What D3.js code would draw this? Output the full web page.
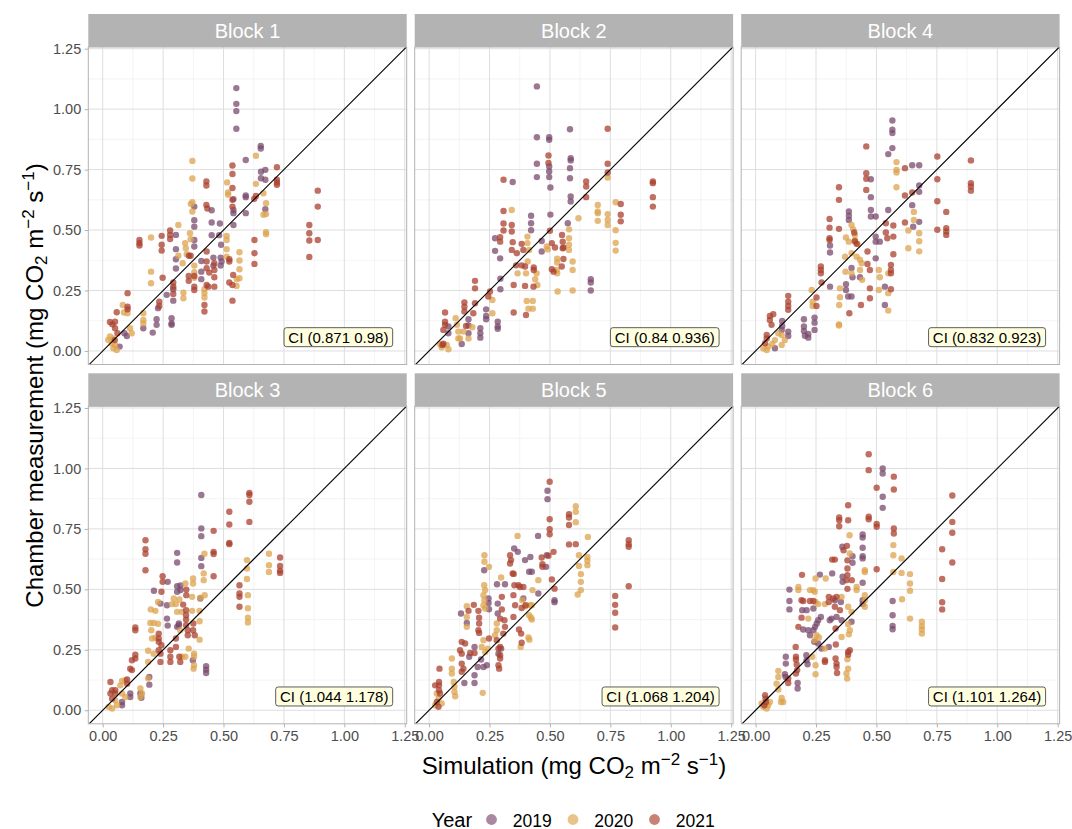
<!DOCTYPE html>
<html>
<head>
<meta charset="utf-8">
<script src="https://cdn.jsdelivr.net/npm/d3@7"></script>
<style>
  body { margin: 0; background: #fff; }
  svg text { font-family: "Liberation Sans", Arial, sans-serif; }
</style>
</head>
<body>
<div id="chart"></div>
<script>
// facet labels in display order, and the CI text of each facet
const blocks = ["Block 1", "Block 2", "Block 4", "Block 3", "Block 5", "Block 6"];
const ciLabels = ["CI (0.871 0.98)", "CI (0.84 0.936)", "CI (0.832 0.923)",
                  "CI (1.044 1.178)", "CI (1.068 1.204)", "CI (1.101 1.264)"];
const years = ["2019", "2020", "2021"];
const yearColors = ["#7a4a6e", "#dca34e", "#aa402d"];
const ticks = [0, 0.25, 0.5, 0.75, 1.0, 1.25];
const minorTicks = [0.125, 0.375, 0.625, 0.875, 1.125];

// [simulation, chamber measurement]
const b1_2019 = [[.553,1.087],[.553,1.022],[.553,.992],[.553,.919],[.654,.848],[.654,.837],[.592,.79],[.592,.643],[.592,.636],[.592,.57],
  [.655,.741],[.673,.749],[.655,.714],[.673,.708],[.673,.586],[.541,.628],[.541,.583],[.541,.57],[.541,.521],[.451,.582],[.451,.531],
  [.485,.527],[.451,.479],[.482,.479],[.49,.439],[.379,.597],[.379,.541],[.379,.514],[.379,.459],[.379,.432],[.303,.48],[.303,.421],
  [.303,.379],[.303,.341],[.408,.372],[.408,.328],[.408,.297],[.458,.386],[.458,.353],[.488,.386],[.492,.37],[.488,.353],[.265,.232],
  [.292,.255],[.292,.208],[.09,.073],[.1,.062],[.07,.018],[.168,.094],[.207,.076],[.223,.131],[.223,.108],[.285,.135],[.285,.114],
  [.285,.108],[.229,.177]];
const b1_2020 = [[.634,.807],[.634,.691],[.371,.786],[.371,.713],[.371,.615],[.365,.608],[.371,.577],[.515,.697],[.519,.655],[.519,.646],
  [.665,.652],[.676,.611],[.665,.563],[.676,.566],[.676,.491],[.676,.483],[.313,.521],[.2,.469],[.341,.446],[.344,.425],[.348,.4],
  [.361,.487],[.364,.462],[.313,.394],[.331,.363],[.2,.328],[.2,.28],[.334,.241],[.334,.218],[.379,.353],[.379,.326],[.379,.303],
  [.421,.255],[.421,.239],[.421,.221],[.513,.476],[.513,.459],[.513,.421],[.513,.39],[.566,.408],[.566,.374],[.566,.338],[.555,.297],
  [.566,.301],[.554,.269],[.083,.19],[.088,.159],[.103,.156],[.03,.06],[.044,.052],[.051,.025],[.058,.004],[.044,.011],[.037,.032],
  [.023,.046],[.113,.094],[.12,.073],[.168,.156],[.168,.128],[.168,.114]];
const b1_2021 = [[.721,.76],[.721,.708],[.721,.697],[.721,.687],[.537,.767],[.537,.732],[.537,.674],[.537,.625],[.537,.597],[.627,.629],
  [.634,.641],[.429,.701],[.429,.684],[.429,.604],[.433,.589],[.279,.498],[.279,.48],[.279,.463],[.244,.476],[.244,.439],[.244,.415],
  [.152,.459],[.152,.446],[.152,.436],[.357,.394],[.364,.394],[.248,.303],[.292,.283],[.292,.266],[.292,.236],[.356,.31],[.356,.29],
  [.379,.31],[.379,.266],[.379,.252],[.421,.19],[.421,.163],[.43,.411],[.43,.37],[.43,.342],[.441,.324],[.43,.273],[.437,.266],
  [.462,.363],[.462,.335],[.462,.305],[.462,.266],[.524,.379],[.524,.37],[.54,.314],[.537,.273],[.537,.208],[.524,.283],[.628,.459],
  [.628,.404],[.628,.36],[.855,.521],[.855,.487],[.855,.457],[.855,.389],[.89,.663],[.89,.597],[.89,.459],[.103,.239],[.103,.183],
  [.103,.172],[.058,.16],[.051,.121],[.051,.094],[.061,.073],[.234,.204],[.234,.186],[.04,.11],[.03,.12],[.05,.045]];

const b2_2019 = [[.446,1.094],[.583,.917],[.446,.884],[.497,.884],[.497,.873],[.497,.763],[.497,.742],[.497,.719],[.502,.676],[.446,.774],
  [.446,.719],[.586,.797],[.586,.788],[.583,.756],[.583,.714],[.586,.639],[.586,.618],[.346,.699],[.422,.559],[.422,.528],[.422,.499],
  [.502,.564],[.574,.528],[.273,.466],[.273,.414],[.294,.383],[.466,.455],[.466,.411],[.669,.297],[.669,.283],[.669,.25],[.295,.299],
  [.295,.255],[.236,.172],[.236,.145],[.236,.131],[.284,.121],[.284,.101],[.284,.092],[.163,.131],[.163,.105],[.163,.073],[.212,.094],
  [.212,.073],[.212,.055],[.08,.101],[.08,.073],[.135,.029]];
const b2_2020 = [[.739,.717],[.342,.583],[.618,.549],[.579,.503],[.698,.604],[.698,.577],[.698,.57],[.698,.538],[.739,.566],[.739,.542],
  [.739,.521],[.772,.615],[.772,.499],[.772,.447],[.772,.415],[.407,.473],[.407,.446],[.579,.466],[.579,.439],[.579,.418],[.414,.418],
  [.408,.37],[.487,.432],[.491,.42],[.53,.382],[.53,.366],[.528,.335],[.53,.321],[.594,.37],[.594,.335],[.594,.25],[.532,.246],
  [.366,.321],[.401,.321],[.445,.321],[.439,.297],[.448,.273],[.404,.207],[.429,.207],[.411,.175],[.429,.175],[.262,.211],[.262,.156],
  [.179,.098],[.11,.135],[.115,.108],[.121,.08],[.121,.052],[.128,.052],[.045,.029],[.052,.015],[.073,.025],[.08,.007],[.142,.08],
  [.163,.052]];
const b2_2021 = [[.739,.919],[.494,.808],[.494,.777],[.739,.774],[.739,.738],[.65,.701],[.65,.68],[.65,.636],[.926,.701],[.926,.694],
  [.926,.636],[.926,.597],[.793,.608],[.793,.563],[.793,.536],[.308,.708],[.308,.579],[.308,.527],[.308,.498],[.342,.521],[.342,.494],
  [.346,.45],[.342,.418],[.294,.47],[.294,.452],[.5,.497],[.508,.446],[.55,.48],[.553,.452],[.553,.425],[.383,.443],[.39,.418],
  [.363,.404],[.521,.428],[.556,.428],[.556,.38],[.36,.354],[.383,.354],[.397,.349],[.433,.345],[.433,.335],[.508,.338],[.515,.328],
  [.549,.349],[.397,.269],[.432,.266],[.401,.149],[.35,.159],[.35,.273],[.252,.246],[.245,.225],[.19,.29],[.19,.259],[.146,.201],
  [.146,.183],[.146,.163],[.19,.197],[.183,.156],[.153,.103],[.066,.159],[.066,.121],[.066,.108],[.059,.087],[.059,.03],[.055,.025]];

const b4_2019 = [[.566,.953],[.566,.915],[.566,.901],[.566,.839],[.549,.814],[.648,.768],[.677,.768],[.477,.71],[.477,.636],[.677,.684],
  [.677,.658],[.648,.603],[.677,.534],[.652,.514],[.386,.577],[.386,.559],[.386,.542],[.477,.583],[.477,.556],[.497,.556],[.549,.583],
  [.308,.436],[.308,.407],[.497,.473],[.497,.452],[.514,.452],[.497,.383],[.397,.343],[.401,.305],[.432,.305],[.308,.266],[.374,.276],
  [.374,.252],[.383,.225],[.397,.225],[.535,.266],[.535,.19],[.11,.124],[.11,.103],[.135,.08],[.135,.062],[.108,.087],[.2,.131],
  [.2,.101],[.2,.083],[.204,.063],[.218,.07],[.218,.055],[.244,.138],[.244,.117],[.244,.087],[.08,.011]];
const b4_2020 = [[.583,.781],[.583,.749],[.583,.738],[.583,.677],[.655,.575],[.655,.542],[.677,.487],[.677,.454],[.677,.412],[.632,.498],
  [.632,.425],[.397,.521],[.404,.503],[.411,.48],[.374,.469],[.386,.452],[.411,.457],[.422,.443],[.37,.39],[.397,.404],[.418,.39],
  [.432,.377],[.439,.363],[.372,.328],[.397,.321],[.432,.335],[.441,.294],[.51,.335],[.514,.305],[.549,.321],[.232,.252],[.236,.204],
  [.236,.186],[.349,.259],[.349,.222],[.346,.19],[.345,.11],[.345,.105],[.51,.252],[.549,.239],[.549,.167],[.094,.073],[.108,.066],
  [.121,.045],[.108,.025],[.08,.045],[.069,.029],[.032,.011],[.046,.004],[.052,.018]];
const b4_2021 = [[.458,.846],[.752,.804],[.891,.788],[.891,.694],[.891,.68],[.891,.663],[.618,.756],[.458,.735],[.458,.712],[.458,.666],
  [.648,.655],[.618,.643],[.752,.71],[.752,.619],[.789,.575],[.752,.501],[.789,.508],[.789,.494],[.789,.48],[.618,.531],[.345,.677],
  [.345,.625],[.306,.546],[.306,.51],[.345,.505],[.306,.466],[.306,.459],[.408,.49],[.411,.454],[.418,.443],[.463,.411],[.539,.528],
  [.539,.49],[.545,.466],[.57,.519],[.57,.473],[.57,.4],[.56,.356],[.56,.335],[.56,.321],[.463,.36],[.473,.335],[.27,.349],[.27,.335],
  [.27,.321],[.273,.283],[.252,.221],[.252,.186],[.388,.156],[.436,.19],[.473,.259],[.473,.218],[.56,.255],[.135,.228],[.135,.204],
  [.135,.186],[.135,.17],[.059,.145],[.073,.152],[.059,.128],[.066,.108],[.046,.066],[.046,.052],[.039,.032]];

const b3_2019 = [[.408,.89],[.408,.752],[.408,.72],[.308,.651],[.308,.611],[.408,.63],[.408,.596],[.269,.531],[.212,.494],[.308,.513],
  [.322,.516],[.308,.49],[.322,.497],[.404,.462],[.266,.434],[.266,.379],[.239,.441],[.315,.359],[.315,.352],[.269,.35],[.308,.345],
  [.373,.207],[.428,.182],[.428,.168],[.428,.154],[.193,.138],[.193,.106],[.156,.069],[.16,.052],[.114,.069],[.114,.055],[.08,.034],
  [.08,.021]];
const b3_2020 = [[.421,.647],[.418,.566],[.418,.538],[.597,.621],[.597,.586],[.597,.543],[.688,.647],[.688,.6],[.688,.572],[.601,.476],
  [.601,.422],[.601,.383],[.601,.363],[.342,.524],[.374,.545],[.374,.524],[.37,.469],[.404,.465],[.422,.476],[.229,.448],[.218,.411],
  [.199,.417],[.287,.439],[.303,.439],[.308,.407],[.328,.407],[.294,.462],[.317,.458],[.37,.411],[.401,.411],[.321,.331],[.401,.368],
  [.401,.292],[.197,.361],[.211,.361],[.229,.358],[.204,.297],[.218,.3],[.201,.331],[.188,.246],[.211,.234],[.328,.221],[.342,.221],
  [.356,.255],[.378,.234],[.378,.221],[.378,.186],[.376,.172],[.188,.2],[.188,.132],[.094,.124],[.08,.121],[.156,.09],[.163,.069],
  [.156,.055],[.073,.103],[.08,.069],[.094,.055],[.052,.041],[.025,.014],[.039,.007],[.059,.021]];
const b3_2021 = [[.607,.899],[.607,.89],[.607,.862],[.607,.779],[.524,.821],[.524,.768],[.524,.692],[.524,.687],[.459,.742],[.177,.703],
  [.177,.666],[.177,.647],[.177,.579],[.459,.655],[.459,.646],[.459,.554],[.734,.632],[.734,.597],[.734,.577],[.734,.568],[.566,.517],
  [.566,.483],[.566,.469],[.566,.428],[.248,.554],[.248,.531],[.243,.49],[.346,.499],[.346,.476],[.345,.414],[.345,.393],[.345,.375],
  [.345,.352],[.352,.331],[.352,.31],[.333,.437],[.375,.359],[.374,.331],[.381,.31],[.135,.342],[.135,.331],[.232,.317],[.232,.297],
  [.232,.283],[.243,.269],[.232,.248],[.239,.234],[.239,.2],[.303,.297],[.303,.262],[.28,.248],[.28,.221],[.28,.2],[.317,.221],
  [.321,.2],[.135,.23],[.135,.214],[.121,.207],[.114,.172],[.121,.166],[.101,.127],[.101,.11],[.032,.117],[.039,.083],[.032,.069],
  [.039,.048],[.052,.083],[.052,.069]];

const b5_2019 = [[.49,.908],[.49,.873],[.451,.721],[.352,.669],[.367,.655],[.419,.634],[.397,.621],[.414,.573],[.425,.573],[.487,.641],
  [.484,.593],[.519,.455],[.519,.447],[.228,.579],[.281,.521],[.314,.521],[.246,.462],[.246,.444],[.248,.418],[.132,.4],[.156,.361],
  [.284,.441],[.284,.4],[.39,.462],[.452,.483],[.298,.255],[.287,.234],[.188,.262],[.166,.221],[.215,.21],[.201,.179],[.225,.179],
  [.239,.186],[.188,.145],[.188,.113],[.146,.113]];
const b5_2020 = [[.607,.844],[.607,.821],[.607,.778],[.366,.721],[.657,.717],[.62,.641],[.655,.634],[.655,.618],[.655,.6],[.62,.597],
  [.628,.563],[.628,.531],[.628,.497],[.615,.479],[.229,.641],[.229,.614],[.248,.593],[.298,.549],[.452,.538],[.428,.497],[.228,.517],
  [.232,.497],[.225,.476],[.229,.455],[.225,.433],[.232,.421],[.156,.43],[.156,.386],[.156,.345],[.386,.455],[.397,.43],[.418,.434],
  [.425,.434],[.414,.393],[.422,.383],[.425,.375],[.28,.359],[.28,.331],[.273,.31],[.411,.301],[.415,.292],[.379,.262],[.225,.29],
  [.218,.262],[.232,.241],[.243,.255],[.094,.214],[.094,.172],[.094,.152],[.102,.117],[.105,.097],[.105,.076],[.108,.058],[.222,.072],
  [.032,.069],[.025,.021],[.052,.028],[.039,.048]];
const b5_2021 = [[.499,.945],[.579,.811],[.579,.797],[.579,.766],[.499,.79],[.499,.749],[.499,.728],[.579,.686],[.607,.687],[.826,.703],
  [.826,.687],[.826,.676],[.826,.513],[.77,.473],[.77,.436],[.77,.403],[.77,.342],[.335,.641],[.339,.621],[.335,.607],[.346,.566],
  [.466,.632],[.469,.604],[.469,.593],[.515,.655],[.494,.639],[.508,.541],[.519,.503],[.35,.564],[.353,.517],[.37,.517],[.376,.51],
  [.39,.51],[.185,.436],[.163,.411],[.204,.411],[.207,.383],[.207,.359],[.204,.331],[.207,.32],[.301,.469],[.301,.417],[.294,.379],
  [.349,.476],[.356,.434],[.349,.386],[.383,.423],[.4,.434],[.312,.372],[.314,.345],[.307,.317],[.372,.334],[.381,.317],[.383,.279],
  [.248,.297],[.28,.29],[.294,.262],[.287,.255],[.294,.228],[.294,.214],[.287,.186],[.29,.172],[.135,.283],[.149,.276],[.128,.248],
  [.135,.234],[.17,.237],[.188,.237],[.135,.193],[.142,.172],[.135,.159],[.043,.172],[.041,.117],[.041,.103],[.041,.083],[.045,.069],
  [.032,.034],[.039,.014],[.025,.103]];

const b6_2019 = [[.526,1.0],[.526,.979],[.526,.883],[.526,.837],[.443,.727],[.443,.714],[.443,.672],[.359,.676],[.401,.637],[.401,.61],
  [.443,.637],[.443,.628],[.567,.452],[.567,.393],[.567,.349],[.567,.335],[.317,.566],[.36,.552],[.36,.531],[.443,.527],[.443,.455],
  [.443,.439],[.266,.561],[.14,.499],[.14,.452],[.14,.417],[.193,.414],[.211,.414],[.239,.421],[.197,.334],[.218,.331],[.239,.331],
  [.246,.345],[.253,.359],[.259,.372],[.27,.386],[.225,.31],[.243,.283],[.259,.276],[.273,.255],[.328,.455],[.353,.448],[.314,.379],
  [.307,.372],[.335,.386],[.356,.372],[.397,.366],[.303,.262],[.21,.228],[.211,.207],[.215,.19],[.125,.221],[.125,.193],[.121,.149],
  [.124,.138],[.174,.113],[.174,.09]];
const b6_2020 = [[.389,.724],[.57,.683],[.57,.641],[.39,.648],[.452,.579],[.452,.572],[.604,.628],[.604,.568],[.57,.572],[.639,.563],
  [.639,.524],[.639,.494],[.606,.459],[.639,.379],[.688,.366],[.688,.348],[.688,.334],[.688,.317],[.452,.476],[.452,.455],[.452,.428],
  [.418,.51],[.418,.497],[.248,.545],[.29,.545],[.238,.497],[.245,.49],[.177,.51],[.177,.497],[.225,.497],[.218,.379],[.245,.29],
  [.287,.439],[.259,.439],[.248,.448],[.356,.469],[.383,.428],[.397,.407],[.383,.356],[.39,.331],[.386,.314],[.356,.303],[.287,.255],
  [.248,.186],[.248,.149],[.38,.211],[.383,.172],[.376,.152],[.379,.131],[.252,.31],[.262,.301],[.234,.221],[.094,.163],[.094,.138],
  [.087,.11],[.094,.086],[.108,.051],[.114,.034],[.105,.034],[.025,.028],[.032,.014],[.052,.021],[.046,.007],[.059,.034]];
const b6_2021 = [[.468,1.059],[.468,.993],[.572,.966],[.572,.913],[.501,.92],[.814,.888],[.814,.779],[.814,.734],[.814,.611],[.772,.666],
  [.772,.543],[.772,.447],[.772,.417],[.383,.848],[.346,.797],[.346,.786],[.346,.761],[.383,.786],[.468,.8],[.468,.79],[.501,.77],
  [.501,.759],[.572,.752],[.572,.731],[.378,.68],[.364,.662],[.317,.623],[.328,.623],[.38,.62],[.38,.586],[.38,.559],[.376,.538],
  [.38,.502],[.398,.538],[.501,.583],[.192,.56],[.19,.455],[.197,.452],[.225,.452],[.239,.452],[.19,.383],[.177,.345],[.303,.469],
  [.303,.448],[.321,.462],[.335,.469],[.328,.428],[.349,.414],[.331,.338],[.332,.272],[.39,.248],[.383,.241],[.383,.23],[.331,.214],
  [.335,.193],[.335,.179],[.337,.154],[.287,.2],[.287,.207],[.166,.262],[.167,.221],[.167,.21],[.17,.189],[.172,.166],[.135,.131],
  [.135,.113],[.167,.152],[.039,.062],[.041,.048],[.043,.034],[.036,.021]];

const panels = [
  [b1_2019, b1_2020, b1_2021],
  [b2_2019, b2_2020, b2_2021],
  [b4_2019, b4_2020, b4_2021],
  [b3_2019, b3_2020, b3_2021],
  [b5_2019, b5_2020, b5_2021],
  [b6_2019, b6_2020, b6_2021]
];

const width = 1072, height = 829;
const colLeft = [88.3, 414.7, 741.2];
const stripTop = [14, 373.3];
const panelW = 318.4, stripH = 33, plotH = 317.5;

const svg = d3.select("#chart").append("svg")
    .attr("width", width)
    .attr("height", height);

const xScale = d3.scaleLinear().domain([-0.0596, 1.258]).range([0, panelW]);
const yScale = d3.scaleLinear().domain([-0.056, 1.257]).range([plotH, 0]);

panels.forEach((series, i) => {
    const col = i % 3, row = Math.floor(i / 3);
    const g = svg.append("g")
        .attr("transform", "translate(" + colLeft[col] + "," + stripTop[row] + ")");

    // strip
    g.append("rect")
        .attr("width", panelW).attr("height", stripH)
        .attr("fill", "#b3b3b3");
    g.append("text")
        .attr("x", panelW / 2).attr("y", 24)
        .attr("text-anchor", "middle")
        .attr("fill", "#ffffff")
        .style("font-size", "20px")
        .text(blocks[i]);

    const pg = g.append("g").attr("transform", "translate(0," + stripH + ")");

    pg.append("clipPath").attr("id", "clip" + i)
        .append("rect").attr("width", panelW).attr("height", plotH);

    // grid
    pg.selectAll(".minorV").data(minorTicks).join("line")
        .attr("x1", d => xScale(d)).attr("x2", d => xScale(d))
        .attr("y1", 0).attr("y2", plotH)
        .attr("stroke", "#ededed").attr("stroke-width", 0.6);
    pg.selectAll(".minorH").data(minorTicks).join("line")
        .attr("y1", d => yScale(d)).attr("y2", d => yScale(d))
        .attr("x1", 0).attr("x2", panelW)
        .attr("stroke", "#ededed").attr("stroke-width", 0.6);
    pg.selectAll(".majorV").data(ticks).join("line")
        .attr("x1", d => xScale(d)).attr("x2", d => xScale(d))
        .attr("y1", 0).attr("y2", plotH)
        .attr("stroke", "#dedede").attr("stroke-width", 1);
    pg.selectAll(".majorH").data(ticks).join("line")
        .attr("y1", d => yScale(d)).attr("y2", d => yScale(d))
        .attr("x1", 0).attr("x2", panelW)
        .attr("stroke", "#dedede").attr("stroke-width", 1);

    // points
    const dots = pg.append("g").attr("clip-path", "url(#clip" + i + ")");
    series.forEach((pts, k) => {
        dots.selectAll(".y" + years[k]).data(pts).join("circle")
            .attr("cx", d => xScale(d[0]))
            .attr("cy", d => yScale(d[1]))
            .attr("r", 3.2)
            .attr("fill", yearColors[k])
            .attr("fill-opacity", 0.75);
    });

    // 1:1 line
    pg.append("line")
        .attr("clip-path", "url(#clip" + i + ")")
        .attr("x1", xScale(-0.07)).attr("y1", yScale(-0.07))
        .attr("x2", xScale(1.27)).attr("y2", yScale(1.27))
        .attr("stroke", "#000").attr("stroke-width", 1.1);

    // CI label
    const lab = pg.append("g");
    const pad = 4.3;
    const right = xScale(1.2), cy = yScale(0.057);
    const t = lab.append("text")
        .attr("x", right - pad).attr("y", cy + 5.4)
        .attr("text-anchor", "end")
        .attr("fill", "#000")
        .style("font-size", "15px")
        .text(ciLabels[i]);
    const tw = t.node().getComputedTextLength();
    lab.insert("rect", "text")
        .attr("x", right - tw - 2 * pad).attr("y", cy - 9.5)
        .attr("width", tw + 2 * pad).attr("height", 19)
        .attr("rx", 2.5)
        .attr("fill", "#ffffe0").attr("stroke", "#333").attr("stroke-width", 0.8);

    // border
    pg.append("rect")
        .attr("width", panelW).attr("height", plotH)
        .attr("fill", "none").attr("stroke", "#b3b3b3").attr("stroke-width", 1);

    // axes
    if (col === 0) {
        const ya = pg.append("g")
            .call(d3.axisLeft(yScale).tickValues(ticks).tickSize(3.6).tickPadding(3.5).tickFormat(d3.format(".2f")));
        ya.select(".domain").remove();
        ya.selectAll("line").attr("stroke", "#b3b3b3");
        ya.selectAll("text").attr("fill", "#4d4d4d").style("font-size", "14.5px")
            .style("font-family", "'Liberation Sans', Arial, sans-serif");
    }
    if (row === 1) {
        const xa = pg.append("g").attr("transform", "translate(0," + plotH + ")")
            .call(d3.axisBottom(xScale).tickValues(ticks).tickSize(3.6).tickPadding(3.8).tickFormat(d3.format(".2f")));
        xa.select(".domain").remove();
        xa.selectAll("line").attr("stroke", "#b3b3b3");
        xa.selectAll("text").attr("fill", "#4d4d4d").style("font-size", "14.5px")
            .style("font-family", "'Liberation Sans', Arial, sans-serif");
    }
});

// axis titles with sub/superscripts
function unitTitle(sel, label) {
    sel.append("tspan").text(label + " (mg CO");
    sel.append("tspan").attr("dy", 4).style("font-size", "17px").text("2");
    sel.append("tspan").attr("dy", -4).text(" m");
    sel.append("tspan").attr("dy", -9).style("font-size", "17px").text("\u22122");
    sel.append("tspan").attr("dy", 9).text(" s");
    sel.append("tspan").attr("dy", -9).style("font-size", "17px").text("\u22121");
    sel.append("tspan").attr("dy", 9).text(")");
}

const xTitle = svg.append("text")
    .attr("x", 574).attr("y", 774)
    .attr("text-anchor", "middle")
    .style("font-size", "24px").attr("fill", "#000");
unitTitle(xTitle, "Simulation");

const yTitle = svg.append("text")
    .attr("transform", "translate(42.5,385.5) rotate(-90)")
    .attr("text-anchor", "middle")
    .style("font-size", "24px").attr("fill", "#000");
unitTitle(yTitle, "Chamber measurement");

// legend
const legend = svg.append("g");
legend.append("text")
    .attr("x", 431.7).attr("y", 826.5)
    .style("font-size", "20px").attr("fill", "#000")
    .text("Year");
const keyX = [491.5, 573, 654.5];
years.forEach((yr, k) => {
    legend.append("circle")
        .attr("cx", keyX[k]).attr("cy", 819.5).attr("r", 5.4)
        .attr("fill", yearColors[k]).attr("fill-opacity", 0.65);
    legend.append("text")
        .attr("x", keyX[k] + 21.3).attr("y", 826.5)
        .style("font-size", "17.5px").attr("fill", "#000")
        .text(yr);
});
</script>
</body>
</html>
